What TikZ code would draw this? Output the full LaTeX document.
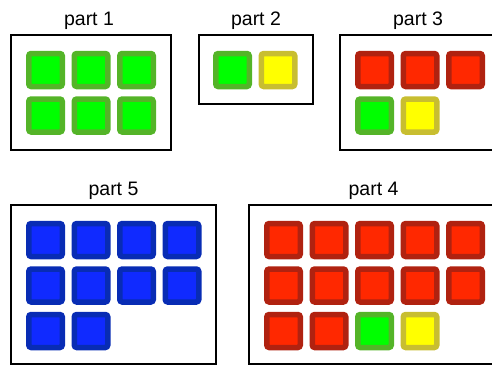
\documentclass[tikz,border=0pt]{standalone}
\usepackage{fontspec}
\setmainfont{Liberation Sans}
\usetikzlibrary{positioning}

\definecolor{gfill}{RGB}{0,255,0}
\definecolor{gline}{RGB}{84,180,40}
\definecolor{rfill}{RGB}{255,40,0}
\definecolor{rline}{RGB}{176,34,16}
\definecolor{yfill}{RGB}{255,255,0}
\definecolor{yline}{RGB}{200,190,48}
\definecolor{bfill}{RGB}{16,42,255}
\definecolor{bline}{RGB}{8,44,180}

\tikzset{
  sq/.style={draw, line width=5.5pt, rounded corners=2.5pt, inner sep=0pt, minimum width=33.5pt, minimum height=33pt},
  gsq/.style={sq, fill=gfill, draw=gline},
  rsq/.style={sq, fill=rfill, draw=rline},
  ysq/.style={sq, fill=yfill, draw=yline},
  bsq/.style={sq, fill=bfill, draw=bline},
  part/.style={draw, line width=2pt, inner sep=0pt},
  plabel/.style={font=\fontsize{19.5}{22}\selectfont, inner sep=1pt}
}

\begin{document}
\begin{tikzpicture}[x=1pt, y=-1pt]
  \useasboundingbox (0,0) rectangle (492,364);

  % frames
  \node[part, minimum width=160pt, minimum height=115pt] (p1) at (91,92.5) {};
  \node[part, minimum width=114pt, minimum height=69pt] (p2) at (256,69.5) {};
  \node[part, minimum width=160pt, minimum height=115pt] (p3) at (420,92.5) {};
  \node[part, minimum width=205pt, minimum height=159pt] (p5) at (113.5,284.5) {};
  \node[part, minimum width=251pt, minimum height=159pt] (p4) at (374.5,284.5) {};

  \node[plabel, above=3pt of p1, xshift=-2pt] (l1) {part 1};
  \node[plabel, above=3pt of p2] (l2) {part 2};
  \node[plabel, above=3pt of p3, xshift=-2pt] (l3) {part 3};
  \node[plabel, above=3pt of p5] (l5) {part 5};
  \node[plabel, above=3pt of p4, xshift=-1pt] (l4) {part 4};

  % part 1
  \foreach \i in {0,1,2} {
    \node[gsq] (a1\i) at (45.5+45.5*\i,70) {};
    \node[gsq] (b1\i) at (45.5+45.5*\i,115.5) {};
  }

  % part 2
  \node[gsq] (a20) at (232.5,70) {};
  \node[ysq] (a21) at (278,70) {};

  % part 3
  \foreach \i in {0,1,2}
    \node[rsq] (a3\i) at (374.5+45.5*\i,70) {};
  \node[gsq] (b30) at (374.5,115.5) {};
  \node[ysq] (b31) at (420,115.5) {};

  % part 5
  \foreach \i in {0,...,3} {
    \node[bsq] (a5\i) at (45.5+45.5*\i,240) {};
    \node[bsq] (b5\i) at (45.5+45.5*\i,285.5) {};
  }
  \node[bsq] (c50) at (45.5,331) {};
  \node[bsq] (c51) at (91,331) {};

  % part 4
  \foreach \i in {0,...,4} {
    \node[rsq] (a4\i) at (283.5+45.5*\i,240) {};
    \node[rsq] (b4\i) at (283.5+45.5*\i,285.5) {};
  }
  \node[rsq] (c40) at (283.5,331) {};
  \node[rsq] (c41) at (329,331) {};
  \node[gsq] (c42) at (374.5,331) {};
  \node[ysq] (c43) at (420,331) {};
\end{tikzpicture}
\end{document}
